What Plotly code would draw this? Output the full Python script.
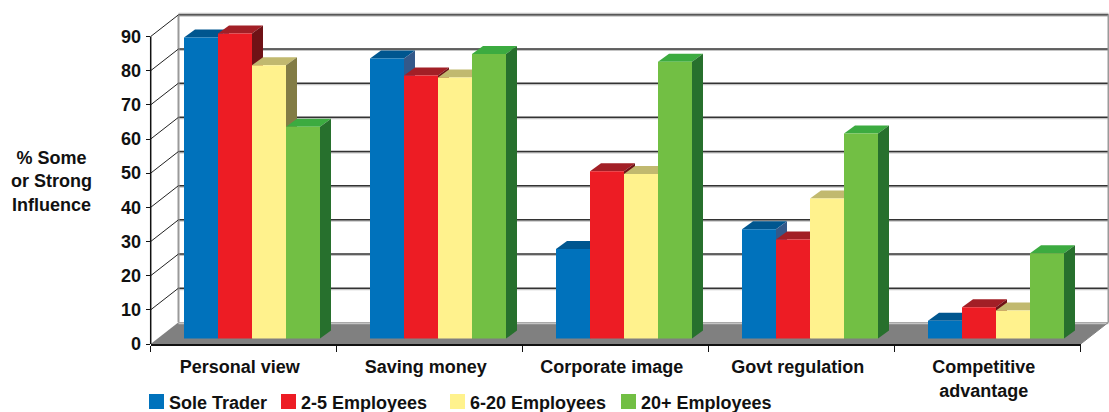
import plotly.graph_objects as go

categories = ["Personal view", "Saving money", "Corporate image", "Govt regulation", "Competitive<br>advantage"]
series_names = ["Sole Trader", "2-5 Employees", "6-20 Employees", "20+ Employees"]
sole_trader = [88.1, 82.0, 26.2, 32.0, 5.2]
two_five = [89.3, 77.0, 49.0, 29.0, 9.2]
six_twenty = [80.0, 76.4, 48.2, 41.0, 8.2]
twenty_plus = [62.0, 83.3, 81.0, 60.0, 25.0]
all_values = [sole_trader, two_five, six_twenty, twenty_plus]
y_ticks = list(range(0, 100, 10))

front_colors = ["#0072BC", "#ED1C24", "#FFF28D", "#72BF44"]
top_colors = ["#00568F", "#A21F26", "#C1B96F", "#3CAB40"]
side_colors = ["#34598A", "#6F1216", "#827C45", "#27702D"]

# pixel geometry of the front plane
W, H = 1109, 412
L, R, T, B = 150.7, 1080.7, 36.5, 344.0
PX_X = (R - L) / 5
PX_Y = (B - T) / 90
WALL_DX, WALL_DY = 27.8 / PX_X, 21.7 / PX_Y
BAR_DX, BAR_DY = 11 / PX_X, 8 / PX_Y
BAR_LIFT = 5.4 / PX_Y
BAR_W = 34 / PX_X
BAR_START = -0.5 + 33.3 / PX_X
Y_HEADROOM = 4  # value units above 90 so the tallest front face is not cut

fig = go.Figure()


def poly(xs, ys, color):
    fig.add_trace(go.Scatter(x=xs, y=ys, mode="lines", fill="toself", fillcolor=color,
                             line=dict(width=0), hoverinfo="skip",
                             showlegend=False, xaxis="x", yaxis="y"))


def segs(pairs, color, width):
    xs, ys = [], []
    for (a, b, c, d) in pairs:
        xs += [a, c, None]
        ys += [b, d, None]
    fig.add_trace(go.Scatter(x=xs, y=ys, mode="lines", line=dict(color=color, width=width),
                             hoverinfo="skip", showlegend=False,
                             xaxis="x", yaxis="y", connectgaps=False))


x0, x1 = -0.5, 4.5
# floor
poly([x0, x0 + WALL_DX, x1 + WALL_DX, x1, x0], [0, WALL_DY, WALL_DY, 0, 0], "#808080")
# back wall: soft shadow lines then dark grid lines
shadow = 1.3 / PX_Y
segs([(x0 + WALL_DX, v + WALL_DY - shadow, x1 + WALL_DX, v + WALL_DY - shadow) for v in y_ticks], "#C4C4C4", 1.5)
segs([(x0 + WALL_DX, v + WALL_DY, x1 + WALL_DX, v + WALL_DY) for v in y_ticks[1:]], "#333333", 1.5)
segs([(x0 + WALL_DX, 90 + WALL_DY + shadow, x1 + WALL_DX, 90 + WALL_DY + shadow)], "#C4C4C4", 1.5)
segs([(x0 + WALL_DX, WALL_DY, x0 + WALL_DX, 90 + WALL_DY),
      (x1 + WALL_DX, WALL_DY, x1 + WALL_DX, 90 + WALL_DY)], "#9A9A9A", 2)
# side wall diagonals
segs([(x0, v, x0 + WALL_DX, v + WALL_DY) for v in y_ticks[1:]], "#222222", 1)
segs([(x1, 0, x1 + WALL_DX, WALL_DY)], "#808080", 1)
# value axis line, stopping at the 90 tick
segs([(x0, 0, x0, 90)], "#111111", 1.5)

# bar tops and sides
for s, vals in enumerate(all_values):
    for c, v in enumerate(vals):
        left = c + BAR_START + s * BAR_W
        right = left + BAR_W
        top = v + BAR_LIFT
        poly([left, left + BAR_DX, right + BAR_DX, right, left],
             [top, top + BAR_DY, top + BAR_DY, top, top], top_colors[s])
        poly([right, right + BAR_DX, right + BAR_DX, right, right],
             [BAR_LIFT, BAR_LIFT + BAR_DY, top + BAR_DY, top, BAR_LIFT], side_colors[s])

# bar fronts
for s, vals in enumerate(all_values):
    fig.add_trace(go.Bar(x=categories, y=vals, base=BAR_LIFT, name=series_names[s],
                         width=BAR_W, offset=BAR_START + s * BAR_W, cliponaxis=False,
                         marker=dict(color=front_colors[s], line=dict(width=0)),
                         xaxis="x2", yaxis="y2", showlegend=False))

font = dict(family="Liberation Sans", size=18, color="#111111", weight="bold")

# legend
legend_swatch_px = [149, 281, 450, 621]
annotations = [dict(text="% Some<br>or Strong<br>Influence", xref="paper", yref="paper",
                    x=51.5 / W, y=1 - 181 / H, xanchor="center", yanchor="middle",
                    showarrow=False, font=font, align="center")]
shapes = []
for s, name in enumerate(series_names):
    p = legend_swatch_px[s]
    shapes.append(dict(type="rect", xref="paper", yref="paper", x0=p / W, x1=(p + 15) / W,
                       y0=1 - 394 / H, y1=1 - 409 / H, fillcolor=front_colors[s], line=dict(width=0)))
    annotations.append(dict(text=name, xref="paper", yref="paper", x=(p + 18) / W, y=1 - 403 / H,
                            xanchor="left", yanchor="middle", showarrow=False, font=font))

fig.update_layout(
    width=W, height=H, autosize=False,
    margin=dict(l=0, r=0, t=0, b=0, pad=0, autoexpand=False),
    paper_bgcolor="white", plot_bgcolor="rgba(0,0,0,0)",
    barmode="overlay", showlegend=False,
    annotations=annotations, shapes=shapes,
    # full-canvas hidden axes carry the walls, floor and bar depth faces
    xaxis=dict(domain=[0, 1], range=[x0 - L / PX_X, x0 + (W - L) / PX_X], visible=False, fixedrange=True),
    yaxis=dict(domain=[0, 1], range=[-(H - B) / PX_Y, 90 + T / PX_Y], visible=False, fixedrange=True),
    # visible axes sit on the front plane
    xaxis2=dict(type="category", anchor="y2", domain=[L / W, R / W], range=[x0, x1],
                categoryorder="array", categoryarray=categories,
                tickson="boundaries", ticks="outside", ticklen=6, tickwidth=1.2, tickcolor="#111111",
                showline=True, linecolor="#111111", linewidth=1.5, showgrid=False,
                tickfont=font, ticklabelstandoff=6, ticklabelshift=-4, tickangle=0, fixedrange=True),
    yaxis2=dict(anchor="x2", domain=[(H - B) / H, (H - T + Y_HEADROOM * PX_Y) / H], range=[0, 90 + Y_HEADROOM],
                tickvals=y_ticks, ticks="outside", ticklen=4, tickwidth=1.2,
                tickcolor="#111111", showline=False,
                showgrid=False, zeroline=False, tickfont=font, ticklabelstandoff=1, fixedrange=True),
)
fig.write_html("out.html", config=dict(displayModeBar=False),
               post_script="document.body.style.margin='0';document.documentElement.style.overflow='hidden';")
